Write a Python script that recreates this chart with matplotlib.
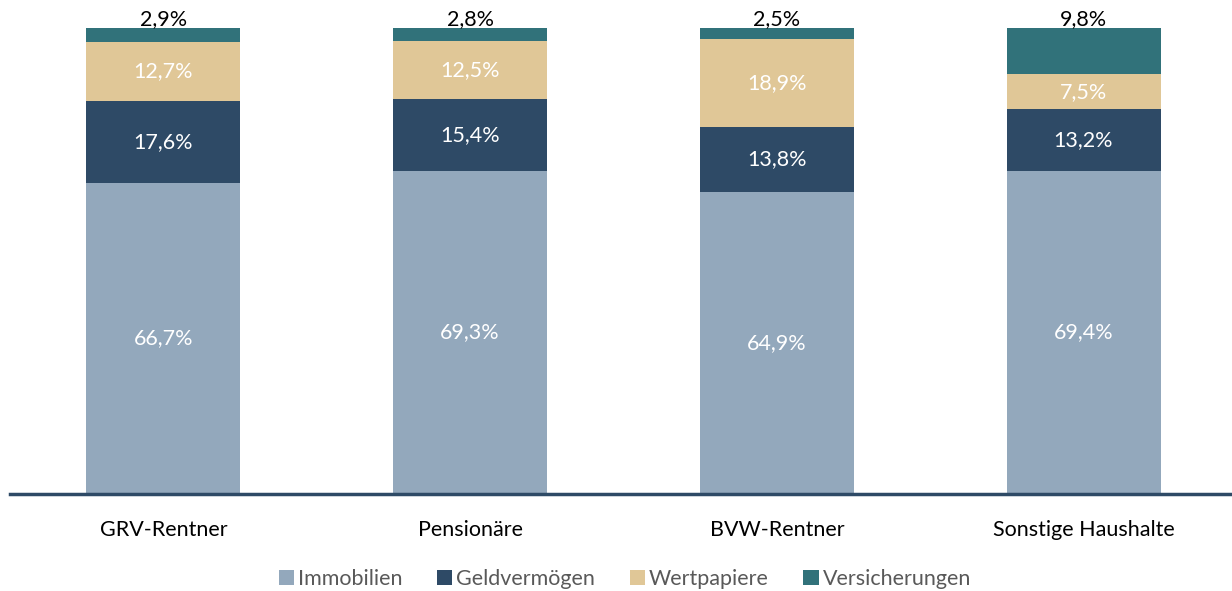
import matplotlib.pyplot as plt
import numpy as np

plt.rcParams['font.family'] = ['Lato', 'DejaVu Sans']

categories = ['GRV-Rentner', 'Pensionäre', 'BVW-Rentner', 'Sonstige Haushalte']
series = ['Immobilien', 'Geldvermögen', 'Wertpapiere', 'Versicherungen']
immobilien = [66.7, 69.3, 64.9, 69.4]
geldvermoegen = [17.6, 15.4, 13.8, 13.2]
wertpapiere = [12.7, 12.5, 18.9, 7.5]
versicherungen = [2.9, 2.8, 2.5, 9.8]

colors = ['#93A8BC', '#2E4A66', '#E0C797', '#31727A']
values = [immobilien, geldvermoegen, wertpapiere, versicherungen]

fig = plt.figure(figsize=(12.32, 5.91), dpi=100)
ax = fig.add_axes([10 / 1232, 97 / 591, 1222 / 1232, 466 / 591])

x = np.arange(len(categories))
bottom = np.zeros(len(categories))
for i, (name, vals) in enumerate(zip(series, values)):
    vals = np.array(vals)
    ax.bar(x, vals, 0.502, bottom=bottom, color=colors[i], label=name)
    for xi, b, v in zip(x, bottom, vals):
        lbl = f'{v:.1f}%'.replace('.', ',')
        if i == 3:
            ax.text(xi, 100 + 2.0, lbl, ha='center', va='center',
                    fontsize=15.5, color='black', clip_on=False)
        else:
            ax.text(xi, b + v / 2, lbl, ha='center', va='center',
                    fontsize=15.5, color='white')
    bottom += vals

ax.set_xlim(-0.5, 3.484)
ax.set_ylim(0, 100)
for s in ['top', 'right', 'left']:
    ax.spines[s].set_visible(False)
ax.spines['bottom'].set_color('#2E4A66')
ax.spines['bottom'].set_linewidth(2.5)
ax.set_yticks([])
ax.set_xticks(x)
ax.set_xticklabels(categories, fontsize=15.5)
ax.tick_params(axis='x', length=0, pad=19)

ax.legend(loc='center', bbox_to_anchor=(625 / 1232, 12 / 591),
          bbox_transform=fig.transFigure, ncol=4, frameon=False,
          fontsize=15.5, handlelength=0.7, handleheight=0.7,
          handletextpad=0.2, columnspacing=1.6, labelcolor='#595959')

fig.savefig('out.png', dpi=100)
